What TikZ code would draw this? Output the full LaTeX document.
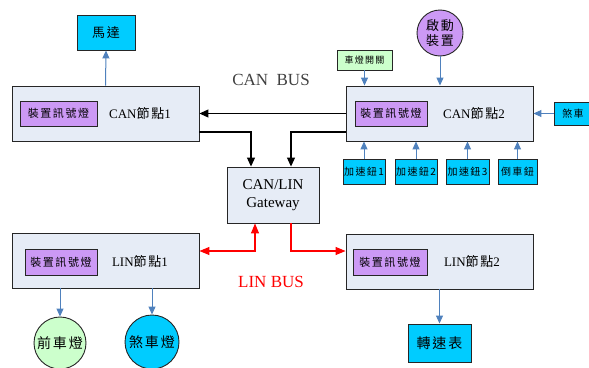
\documentclass[tikz,border=0pt]{standalone}
\usepackage{fontspec}
\setmainfont{Liberation Serif}
\newfontfamily\cjk[LetterSpace=14]{Noto Sans CJK TC}
\usetikzlibrary{arrows.meta,calc}
\definecolor{nodebg}{HTML}{E6ECF6}
\definecolor{purp}{HTML}{CC99F5}
\definecolor{cyanb}{HTML}{00CCFF}
\definecolor{lgreen}{HTML}{CCFFCC}
\definecolor{arrblue}{HTML}{4F81BD}
\newcommand\fs[1]{\fontsize{#1}{#1}\selectfont}
\begin{document}
\begin{tikzpicture}[x=1pt,y=-1pt,
  bigbox/.style={draw=black!85,line width=0.9pt,fill=nodebg,minimum width=187pt,minimum height=55pt,inner sep=0pt},
  sigbox/.style={draw=black!85,line width=0.9pt,fill=purp,minimum height=25pt,inner sep=0pt,font=\cjk\fs{11}},
  cybox/.style={draw=black!85,line width=0.9pt,fill=cyanb,inner sep=0pt,font=\cjk\fs{10}},
  lab/.style={inner sep=0pt,font=\fs{13}},
  barrow/.style={draw=arrblue,line width=1pt,-{Triangle[length=8pt,width=7pt]}},
  karrow/.style={draw=black,line width=1.1pt,-{Triangle[length=9pt,width=8pt]}},
  rarrow/.style={draw=red,line width=1.1pt}
]
\useasboundingbox (0,0) rectangle (589,367);
\clip (0,0) rectangle (589,367);
% CAN nodes
\node[bigbox] (can1) at (105.5,113.5) {};
\node[sigbox,minimum width=77pt] (can1sig) at (58.5,113.5) {裝置訊號燈};
\node[lab] (can1lab) at (140,114) {CAN{\cjk 節點}1};
\node[bigbox] (can2) at (439.5,113.5) {};
\node[sigbox,minimum width=72pt] (can2sig) at (391,113.5) {裝置訊號燈};
\node[lab] (can2lab) at (474,114) {CAN{\cjk 節點}2};
% LIN nodes
\node[bigbox] (lin1) at (105.5,260.5) {};
\node[sigbox,minimum width=72pt,minimum height=26pt] (lin1sig) at (61,262) {裝置訊號燈};
\node[lab] (lin1lab) at (140,262) {LIN{\cjk 節點}1};
\node[bigbox] (lin2) at (439.5,261.5) {};
\node[sigbox,minimum width=74pt,minimum height=26pt] (lin2sig) at (390,262) {裝置訊號燈};
\node[lab] (lin2lab) at (472,262) {LIN{\cjk 節點}2};
% gateway
\node[draw=black!85,line width=0.9pt,fill=nodebg,minimum width=92pt,minimum height=56pt,inner sep=0pt,align=center,font=\fs{15}] (gw) at (273,195) {CAN/LIN\\[3pt]Gateway};
% peripherals
\node[cybox,minimum width=58pt,minimum height=35pt,font=\cjk\fs{13}] (motor) at (106,32.5) {馬達};
\node[circle,draw=black!85,line width=0.9pt,fill=purp,minimum size=46pt,inner sep=0pt,align=center,font=\cjk\fs{13}] (start) at (440,33) {啟動\\[2pt]裝置};
\node[draw=black!85,line width=0.9pt,fill=lgreen,minimum width=55pt,minimum height=20pt,inner sep=0pt,font=\cjk\fs{9}] (sw) at (364.5,60) {車燈開關};
\node[cybox,minimum width=38pt,minimum height=23pt] (brake) at (573,113.5) {煞車};
\node[cybox,minimum width=42pt,minimum height=25pt] (b1) at (364,171.5) {加速鈕1};
\node[cybox,minimum width=42pt,minimum height=25pt] (b2) at (416,171.5) {加速鈕2};
\node[cybox,minimum width=43pt,minimum height=25pt] (b3) at (467.5,171.5) {加速鈕3};
\node[cybox,minimum width=39pt,minimum height=25pt] (b4) at (517.5,171.5) {倒車鈕};
\node[circle,draw=black!85,line width=0.9pt,fill=lgreen,minimum size=52pt,inner sep=0pt,font=\cjk\fs{14}] (head) at (60,343) {前車燈};
\node[circle,draw=black!85,line width=0.9pt,fill=cyanb,minimum size=54pt,inner sep=0pt,font=\cjk\fs{14}] (blight) at (152,342) {煞車燈};
\node[cybox,minimum width=63pt,minimum height=38pt,font=\cjk\fs{14}] (tacho) at (439.5,343) {轉速表};
% bus labels
\node[font=\fs{17},text=black!75] (canbus) at (271,80) {CAN\ \ BUS};
\node[font=\fs{17},text=red] (linbus) at (271,282) {LIN BUS};
% blue arrows
\draw[barrow] (can1.north) -- (motor.south);
\draw[barrow] (start.south) -- (start.south |- can2.north);
\draw[barrow] (sw.south) -- (sw.south |- can2.north);
\draw[barrow] (brake.west) -- (can2.east);
\foreach \b in {b1,b2,b3,b4} \draw[barrow] (\b.north) -- (\b.north |- can2.south);
\draw[barrow] (head.north |- lin1.south) -- (head.north);
\draw[barrow] (blight.north |- lin1.south) -- (blight.north);
\draw[barrow] (lin2.south) -- (tacho.north);
% black CAN bus
\draw[karrow] (can2.west) -- (can1.east);
\draw[karrow] ([yshift=-18.5pt]can1.east) -| ([xshift=-22pt]gw.north);
\draw[karrow] ([yshift=-18.5pt]can2.west) -| ([xshift=18pt]gw.north);
% red LIN bus
\draw[rarrow,{Triangle[length=10pt,width=8pt]}-{Triangle[length=10pt,width=8pt]}] ([yshift=9.5pt]lin1.east) -| ([xshift=-18pt]gw.south);
\draw[rarrow,-{Triangle[length=10pt,width=8pt]}] ([xshift=18pt]gw.south) |- ([yshift=10.5pt]lin2.west);
\end{tikzpicture}
\end{document}
